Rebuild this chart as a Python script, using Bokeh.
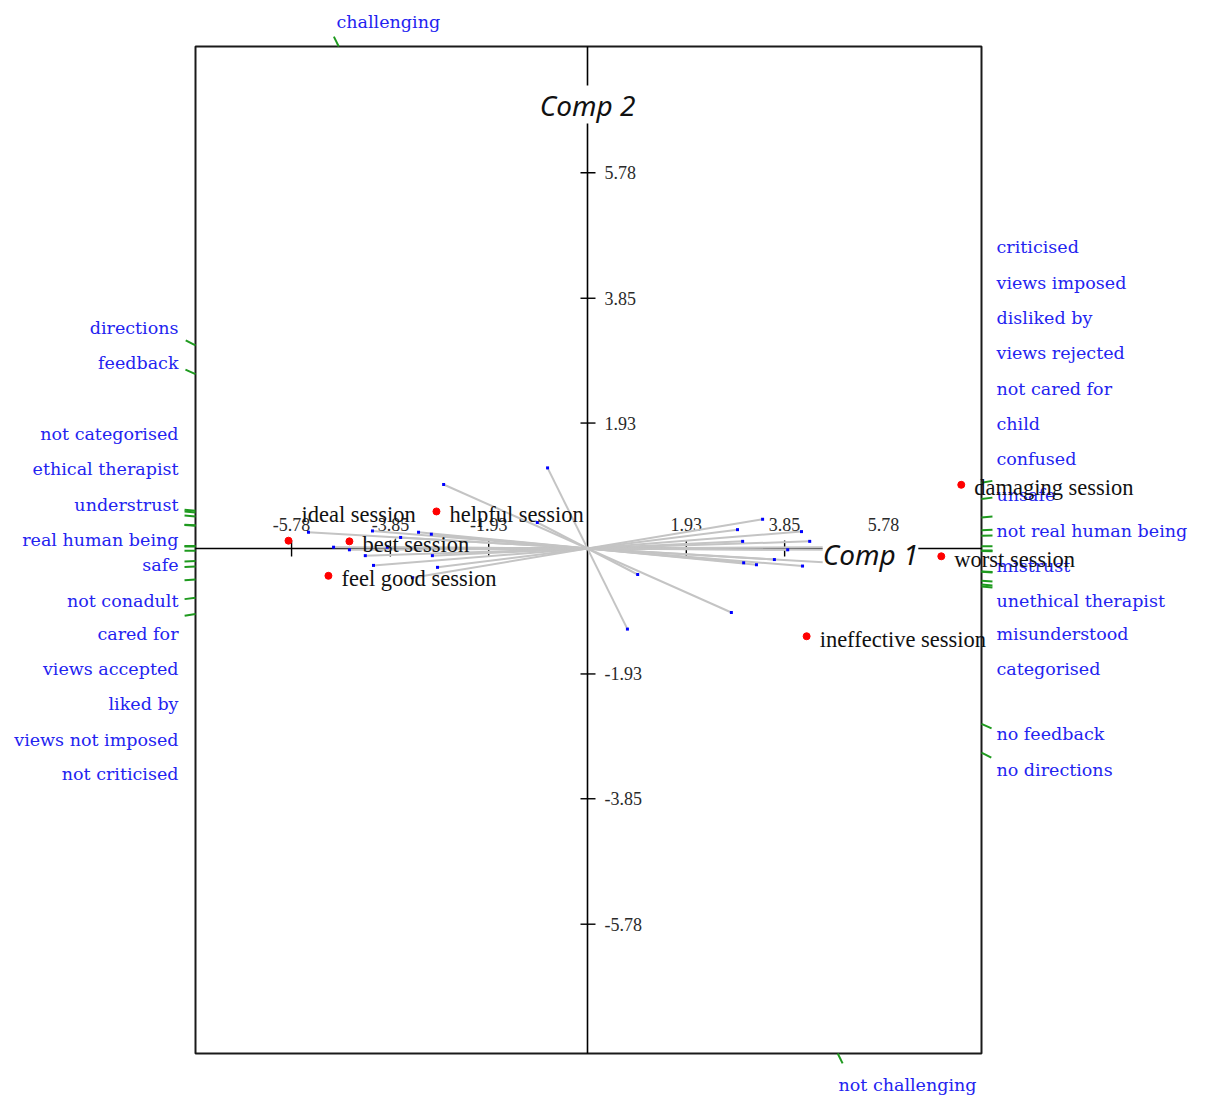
import numpy as np
from bokeh.plotting import figure
from bokeh.models import Range1d, Label, ColumnDataSource
from bokeh.core.properties import value
from bokeh.embed import file_html
from bokeh.resources import INLINE

# ---------------- data ----------------
element_names = ["ideal session", "best session", "feel good session", "helpful session",
                 "damaging session", "worst session", "ineffective session"]
element_comp1 = [-5.84, -4.65, -5.06, -2.95, 7.30, 6.91, 4.28]
element_comp2 = [0.12, 0.11, -0.42, 0.57, 0.98, -0.12, -1.35]

construct_right_pole = ["criticised", "views imposed", "disliked by", "views rejected",
                        "not cared for", "child", "confused", "unsafe",
                        "not real human being", "mistrust", "unethical therapist",
                        "misunderstood", "categorised", "no feedback", "no directions",
                        "not challenging"]
construct_left_pole = ["not criticised", "views not imposed", "liked by", "views accepted",
                       "cared for", "not conadult", "", "safe",
                       "real human being", "understrust", "ethical therapist",
                       "", "not categorised", "feedback", "directions",
                       "challenging"]
construct_comp1 = [3.42, 2.93, 4.18, 3.03, 4.34, 4.65, 4.96, 3.91, 5.45, 3.65, 3.05, 4.20, 3.30, 2.81, 0.98, 0.78]
construct_comp2 = [0.45, 0.29, 0.26, 0.11, 0.11, 0.02, -0.02, -0.02, -0.25, -0.17, -0.22, -0.27, -0.25, -0.985, -0.40, -1.24]

axis_tick_values = [-5.78, -3.85, -1.93, 1.93, 3.85, 5.78]
axis_tick_labels = ["-5.78", "-3.85", "-1.93", "1.93", "3.85", "5.78"]
axis_titles = ["Comp 1", "Comp 2"]

# ---------------- layout ----------------
W, H = 1200, 1098
PX, PY = 51.2, 65.0          # pixels per unit
OX, OY = 587, 548            # origin in canvas pixels


def ux(px):
    return (px - OX) / PX


def uy(py):
    return (OY - py) / PY


BOX_X0, BOX_X1 = ux(195), ux(981)
BOX_Y0, BOX_Y1 = uy(1053), uy(46)

# pole label placement (canvas pixels)
LEFT_LABEL_X, RIGHT_LABEL_X = 178, 996
pole_label_pos = {
    "directions": ("L", 327), "feedback": ("L", 362), "not categorised": ("L", 433),
    "ethical therapist": ("L", 468), "understrust": ("L", 504), "real human being": ("L", 539),
    "safe": ("L", 564), "not conadult": ("L", 600), "cared for": ("L", 633),
    "views accepted": ("L", 668), "liked by": ("L", 703), "views not imposed": ("L", 739),
    "not criticised": ("L", 773),
    "criticised": ("R", 246), "views imposed": ("R", 282), "disliked by": ("R", 317),
    "views rejected": ("R", 352), "not cared for": ("R", 388), "child": ("R", 423),
    "confused": ("R", 458), "unsafe": ("R", 494), "not real human being": ("R", 530),
    "mistrust": ("R", 565), "unethical therapist": ("R", 600), "misunderstood": ("R", 633),
    "categorised": ("R", 668), "no feedback": ("R", 733), "no directions": ("R", 769),
    "challenging": ("T", (336, 21)), "not challenging": ("B", (838, 1084)),
}
element_label_dy = {"ideal session": -26}

p = figure(width=W, height=H, output_backend="svg", toolbar_location=None,
           x_range=Range1d(ux(0), ux(W)), y_range=Range1d(uy(H), uy(0)),
           x_axis_location=None, y_axis_location=None, title=None,
           min_border=0, min_border_left=0, min_border_right=0,
           min_border_top=0, min_border_bottom=0)
p.grid.visible = False
p.outline_line_color = None
p.background_fill_color = "white"
p.border_fill_color = "white"

# frame box
p.quad(left=[BOX_X0], right=[BOX_X1], bottom=[BOX_Y0], top=[BOX_Y1],
       fill_color=None, line_color="#1a1a1a", line_width=2)

# axes
p.segment(x0=[BOX_X0, 0], y0=[0, BOX_Y0], x1=[BOX_X1, 0], y1=[0, BOX_Y1],
          line_color="black", line_width=1.6)
tv = np.array(axis_tick_values)
p.segment(x0=tv, y0=np.full_like(tv, -8 / PY), x1=tv, y1=np.full_like(tv, 8 / PY),
          line_color="black", line_width=1.4)
p.segment(x0=np.full_like(tv, -7 / PX), y0=tv, x1=np.full_like(tv, 8 / PX), y1=tv,
          line_color="black", line_width=1.4)
p.text(x=tv, y=np.full_like(tv, 24 / PY), text=axis_tick_labels,
       text_font=value("Liberation Serif"), text_font_size="18px",
       text_align="center", text_baseline="middle", text_color="#2a2a2a")
p.text(x=np.full_like(tv, 17 / PX), y=tv, text=axis_tick_labels,
       text_font=value("Liberation Serif"), text_font_size="18px",
       text_align="left", text_baseline="middle", text_color="#2a2a2a")

# construct lines
cx = np.array(construct_comp1)
cy = np.array(construct_comp2)
p.segment(x0=-cx, y0=-cy, x1=cx, y1=cy, line_color="#c4c4c4", line_width=2)
p.scatter(x=np.concatenate([cx, -cx]), y=np.concatenate([cy, -cy]), marker="square",
          size=3, fill_color="blue", line_color=None)

# green marks where each construct line leaves the frame
gx0, gy0, gx1, gy1 = [], [], [], []
for sx in (1, -1):
    for a, b in zip(cx * sx, cy * sx):
        ts = []
        if a != 0:
            ts.append((BOX_X1 if a > 0 else BOX_X0) / a)
        if b != 0:
            ts.append((BOX_Y1 if b > 0 else BOX_Y0) / b)
        t = min(ts)
        ex, ey = a * t, b * t
        vx, vy = a * PX, b * PY
        n = np.hypot(vx, vy)
        gx0.append(ex)
        gy0.append(ey)
        gx1.append(ex + 11 * vx / n / PX)
        gy1.append(ey + 11 * vy / n / PY)
p.segment(x0=gx0, y0=gy0, x1=gx1, y1=gy1, line_color="#1f9a1f", line_width=2)

# pole labels
lx, ly, lt, rx, ry, rt, tx, ty, tt = [], [], [], [], [], [], [], [], []
for name in construct_left_pole + construct_right_pole:
    if not name:
        continue
    side, pos = pole_label_pos[name]
    if side == "L":
        lx.append(ux(LEFT_LABEL_X)); ly.append(uy(pos)); lt.append(name)
    elif side == "R":
        rx.append(ux(RIGHT_LABEL_X)); ry.append(uy(pos)); rt.append(name)
    else:
        tx.append(ux(pos[0])); ty.append(uy(pos[1])); tt.append(name)
pole_style = dict(text_font=value("DejaVu Serif"), text_font_size="17.5px",
                  text_baseline="middle", text_color="#2323f0")
p.text(x=lx, y=ly, text=lt, text_align="right", **pole_style)
p.text(x=rx, y=ry, text=rt, text_align="left", **pole_style)
p.text(x=tx, y=ty, text=tt, text_align="left", **pole_style)

# elements
p.scatter(x=element_comp1, y=element_comp2, marker="circle", size=7,
          fill_color="red", line_color="red")
esrc = ColumnDataSource(dict(x=element_comp1, y=element_comp2, text=element_names,
                             yo=[element_label_dy.get(n, 3) for n in element_names]))
p.text(x="x", y="y", text="text", source=esrc, x_offset=13, y_offset="yo",
       text_font=value("Liberation Serif"), text_font_size="22.5px",
       text_align="left", text_baseline="middle", text_color="#111111")

# axis titles
p.add_layout(Label(x=ux(870), y=uy(553), text=axis_titles[0], text_align="center",
                   text_baseline="middle", text_font="Noto Sans", text_font_style="italic",
                   text_font_size="28px", text_color="#111111",
                   background_fill_color="white"))
p.add_layout(Label(x=0, y=uy(104), text=axis_titles[1], text_align="center",
                   text_baseline="middle", text_font="Noto Sans", text_font_style="italic",
                   text_font_size="28px", text_color="#111111",
                   background_fill_color="white"))

open("out.html", "w").write(file_html(p, INLINE))
